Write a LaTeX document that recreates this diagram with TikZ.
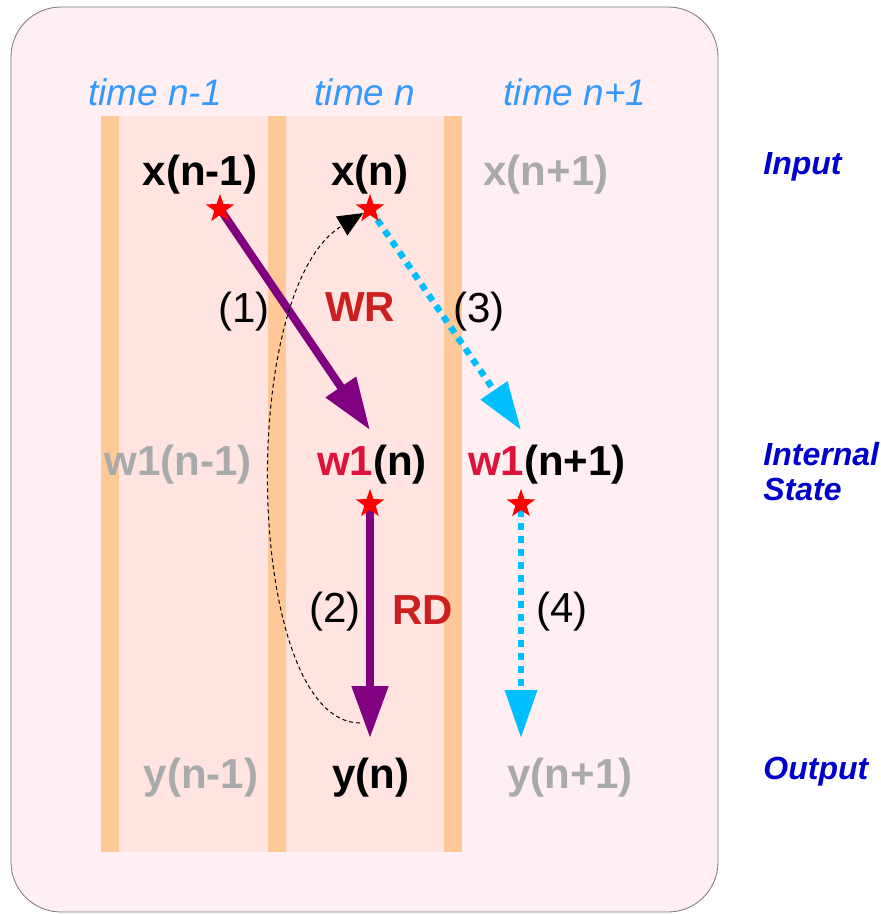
\documentclass[tikz,border=0pt]{standalone}
\usepackage{fontspec}
\setmainfont{Liberation Sans}
\usepackage{tikz}
\usetikzlibrary{arrows.meta, shapes.geometric}
\definecolor{outerPink}{HTML}{FFEEF2}
\definecolor{innerPink}{HTML}{FFE4E1}
\definecolor{stripePeach}{HTML}{FFC896}
\definecolor{frameGray}{HTML}{777777}
\definecolor{timeBlue}{HTML}{3399FF}
\definecolor{sideBlue}{HTML}{0000CC}
\definecolor{fadeGray}{HTML}{AAAAAA}
\definecolor{opRed}{HTML}{CC1F1F}
\definecolor{wCrimson}{HTML}{DC143C}
\definecolor{flowPurple}{HTML}{800080}
\definecolor{flowCyan}{HTML}{00BFFF}
\pgfdeclarelayer{back}
\pgfdeclarelayer{flows}
\pgfsetlayers{back,flows,main}
\tikzset{
  sig/.style={font=\fontsize{21}{25}\selectfont\bfseries, inner sep=0pt},
  fadedsig/.style={sig, text=fadeGray},
  timelbl/.style={font=\fontsize{18.5}{22}\selectfont\itshape, text=timeBlue,
    inner sep=0pt},
  sidelbl/.style={font=\fontsize{16}{17.5}\selectfont\bfseries\itshape,
    text=sideBlue, anchor=west, align=left, inner sep=0pt},
  steplbl/.style={font=\fontsize{21}{25}\selectfont, inner sep=0pt},
  oplbl/.style={font=\fontsize{21}{25}\selectfont\bfseries, text=opRed,
    inner sep=0pt},
  probe/.style={star, star points=5, star point ratio=2.5, fill=red,
    minimum size=15pt, inner sep=0pt},
  solidflow/.style={line width=4pt, draw=flowPurple,
    -{Triangle[length=26pt, width=17.5pt]}},
  nextflow/.style={line width=3.2pt, draw=flowCyan,
    dash pattern=on 3.5pt off 3pt, -{Triangle[length=24pt, width=15.5pt]}},
  loopback/.style={line width=0.5pt, dash pattern=on 2pt off 1.5pt,
    -{Triangle[length=12.5pt, width=11pt]}, shorten >=4pt},
}
\newcommand{\wone}[1]{\textcolor{wCrimson}{w1}(#1)}

\begin{document}
\begin{tikzpicture}[x=0.5pt, y=-0.5pt]
    \useasboundingbox (0,0) rectangle (881,914);
    % frame and time columns
    \begin{pgfonlayer}{back}
    \draw[draw=frameGray, fill=outerPink, rounded corners=25pt]
      (11,7) rectangle (718,912);
    \fill[innerPink] (101,116) rectangle (462,852);
    \foreach \sx in {101,268,444}
      \fill[stripePeach] (\sx,116) rectangle ++(18,736);
    \end{pgfonlayer}
    % time labels
    \node[timelbl] (tprev) at (155,92) {time n-1};
    \node[timelbl] (tnow) at (365,92) {time n};
    \node[timelbl] (tnext) at (575,92) {time n+1};
    % input row
    \node[sig] (xprev) at (200,175) {x(n-1)};
    \node[sig] (xnow) at (370,175) {x(n)};
    \node[fadedsig] (xnext) at (546,175) {x(n+1)};
    \node[sidelbl] (inlbl) at (763,167) {Input};
    % internal state row
    \node[fadedsig] (wprev) at (178,465) {w1(n-1)};
    \node[sig] (wnow) at (372,465) {\wone{n}};
    \node[sig] (wnext) at (547,465) {\wone{n+1}};
    \node[sidelbl] (statelbl) at (763,472) {Internal\\State};
    % output row
    \node[fadedsig] (yprev) at (201,778) {y(n-1)};
    \node[sig] (ynow) at (371,778) {y(n)};
    \node[fadedsig] (ynext) at (570,778) {y(n+1)};
    \node[sidelbl] (outlbl) at (763,772) {Output};
    % probes
    \node[probe] (sx1) at (220,209) {};
    \node[probe] (sx2) at (370,209) {};
    \node[probe] (sw2) at (370,504) {};
    \node[probe] (sw3) at (521,504) {};
    \coordinate (wrtip) at (370,430);
    \coordinate (nexttip) at (521,430);
    \coordinate (rdtip) at (370,738);
    \coordinate (outtip) at (521,738);
    \coordinate (loopstart) at (360,723);
    % flows
    \begin{pgfonlayer}{flows}
    \draw[solidflow] (sx1.center) -- (wrtip);
    \draw[nextflow] (sx2.center) -- (nexttip);
    \draw[solidflow] (sw2) -- (rdtip);
    \draw[nextflow] (sw3) -- (outtip);
    \end{pgfonlayer}
    \draw[loopback] (loopstart) .. controls (245,722) and (235,290)
      .. (sx2.center);
    % step labels
    \node[steplbl] (st1) at (244,312) {(1)};
    \node[oplbl] (wr) at (360,307) {WR};
    \node[steplbl] (st3) at (479,312) {(3)};
    \node[steplbl] (st2) at (335,612) {(2)};
    \node[oplbl] (rd) at (423,610) {RD};
    \node[steplbl] (st4) at (562,612) {(4)};
\end{tikzpicture}
\end{document}
